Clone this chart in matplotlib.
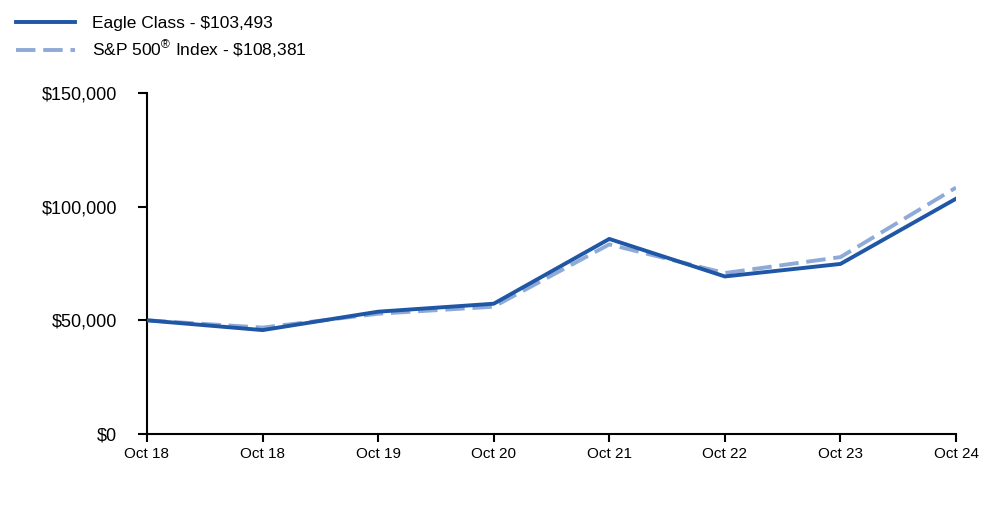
import numpy as np
import matplotlib
matplotlib.use("Agg")
import matplotlib.pyplot as plt

plt.rcParams['font.family'] = ['Liberation Sans', 'DejaVu Sans']
plt.rcParams['mathtext.fontset'] = 'custom'
plt.rcParams['mathtext.rm'] = 'Liberation Sans'

# data
labels = ['Oct 18', 'Oct 18', 'Oct 19', 'Oct 20', 'Oct 21', 'Oct 22', 'Oct 23', 'Oct 24']
eagle = [50000, 45700, 53800, 57300, 85800, 69300, 74800, 103493]
sp500 = [50000, 46800, 52900, 56000, 83400, 70800, 77800, 108381]

x = np.arange(len(labels))

fig = plt.figure(figsize=(10, 5.23), dpi=100)
ax = fig.add_axes([0.147, 0.1702, 0.809, 0.652])

l2, = ax.plot(x, sp500, color='#8eaad7', lw=2.8, dashes=(5, 2), zorder=2)
l1, = ax.plot(x, eagle, color='#1f56a5', lw=2.8, zorder=3)

ax.set_xlim(0, len(labels) - 1)
ax.set_ylim(0, 150000)
ax.set_yticks([0, 50000, 100000, 150000])
ax.set_yticklabels(['$0', '$50,000', '$100,000', '$150,000'], fontsize=13)
ax.set_xticks(x)
ax.set_xticklabels(labels, fontsize=11)

for s in ['top', 'right']:
    ax.spines[s].set_visible(False)
for s in ['left', 'bottom']:
    ax.spines[s].set_linewidth(1.5)
    ax.spines[s].set_color('black')
ax.tick_params(axis='y', length=6.5, width=1.5, pad=15)
ax.tick_params(axis='x', length=5.5, width=1.5, pad=4)

fig.legend([l1, l2],
           ['Eagle Class - \\$103,493', 'S&P 500$^{®}$ Index - \\$108,381'],
           loc='upper left', bbox_to_anchor=(0.0, 1.0), frameon=False,
           fontsize=12.5, handlelength=3.4, handletextpad=1.0, labelspacing=0.45)

fig.savefig('out.png', dpi=100)
